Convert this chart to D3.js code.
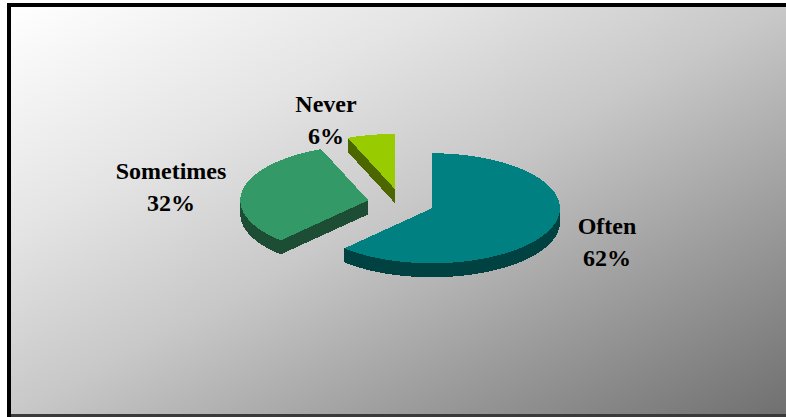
<!DOCTYPE html>
<html>
<head>
<meta charset="utf-8">
<script src="https://cdn.jsdelivr.net/npm/d3@7"></script>
<style>
  html, body { margin: 0; padding: 0; background: #ffffff; overflow: hidden; }
  svg { display: block; }
  .lbl { font-family: "Liberation Serif", "Times New Roman", serif; font-weight: bold; font-size: 24px; fill: #000; }
</style>
</head>
<body>
<svg id="chart" width="786" height="417"></svg>
<script>
// Survey answer shares
const categories = ["Often", "Sometimes", "Never"];
const values = [62, 32, 6];
const percentLabels = ["62%", "32%", "6%"];

// Face colours (top surface, side walls)
const topColors = ["#008080", "#339966", "#99cc00"];
const sideColors = ["#004242", "#1e4d36", "#4c6600"];

const W = 786, H = 417;
const svg = d3.select("#chart");

// Background panel with diagonal grey fade
const defs = svg.append("defs");
const grad = defs.append("linearGradient")
  .attr("id", "bg").attr("x1", 0).attr("y1", 0).attr("x2", 1).attr("y2", 1);
[[0, "#ffffff"], [0.28, "#e4e4e4"], [0.5, "#c8c8c8"], [0.73, "#9f9f9f"], [1, "#707070"]]
  .forEach(([o, c]) => grad.append("stop").attr("offset", o).attr("stop-color", c));

svg.append("rect").attr("x", 11).attr("y", 7).attr("width", W - 11).attr("height", H - 10).attr("fill", "url(#bg)");

// Frame: heavy left and top edges, thin dark bottom edge
svg.append("rect").attr("x", 7).attr("y", 3).attr("width", 4).attr("height", H - 3).attr("fill", "#000");
svg.append("rect").attr("x", 7).attr("y", 3).attr("width", W - 7).attr("height", 4).attr("fill", "#000");
svg.append("rect").attr("x", 11).attr("y", 414).attr("width", W - 11).attr("height", 3).attr("fill", "#3a3a3a");

// 3D pie geometry
const cx = 401, cy = 203;      // pie centre on screen
const rx = 128, ry = 55;       // ellipse radii of the tilted disc
const depth = 14;              // thickness of the disc
const explode = 0.26;          // slice pull-out, as a fraction of the radius

// Unit-circle -> ellipse projection scales
const sx = d3.scaleLinear().domain([-1, 1]).range([-rx, rx]);
const sy = d3.scaleLinear().domain([-1, 1]).range([ry, -ry]);

const pie = d3.pie().sort(null).startAngle(0).endAngle(2 * Math.PI);
const arcs = pie(values);
const line = d3.line();

function arcPts(ox, oy, a0, a1, dy) {
  const n = Math.max(2, Math.ceil((a1 - a0) / 0.02));
  return d3.range(n + 1).map(i => {
    const a = a0 + (a1 - a0) * i / n;
    return [ox + sx(Math.sin(a)), oy + sy(Math.cos(a)) + dy];
  });
}

const g = svg.append("g").attr("shape-rendering", "crispEdges");

// Back slices first so nearer faces overlap correctly
const order = [2, 1, 0];
order.forEach(i => {
  const d = arcs[i];
  const mid = (d.startAngle + d.endAngle) / 2;
  const ox = cx + explode * sx(Math.sin(mid));
  const oy = cy + explode * sy(Math.cos(mid));
  const a0 = d.startAngle, a1 = d.endAngle;
  const slice = g.append("g").attr("class", "slice");

  // Radial walls facing the viewer
  const walls = [];
  if (Math.sin(a0) < -1e-6) walls.push(a0);
  if (Math.sin(a1) > 1e-6) walls.push(a1);
  walls.forEach(a => {
    const p = [ox + sx(Math.sin(a)), oy + sy(Math.cos(a))];
    const pts = [[ox, oy], p, [p[0], p[1] + depth], [ox, oy + depth]];
    slice.append("path").attr("d", line(pts) + "Z").attr("fill", sideColors[i]);
  });

  // Curved outer wall on the front half of the disc
  const f0 = Math.max(a0, Math.PI / 2), f1 = Math.min(a1, 3 * Math.PI / 2);
  if (f1 > f0) {
    const topEdge = arcPts(ox, oy, f0, f1, 0);
    const botEdge = arcPts(ox, oy, f0, f1, depth).reverse();
    slice.append("path").attr("d", line(topEdge.concat(botEdge)) + "Z").attr("fill", sideColors[i]);
  }

  // Top surface
  const topPts = [[ox, oy]].concat(arcPts(ox, oy, a0, a1, 0));
  slice.append("path").attr("d", line(topPts) + "Z").attr("fill", topColors[i]);
});

// Category and percentage labels (offsets from the pie centre)
const labelOffsets = [[206, 31], [-230, -24], [-75, -91]];
const lineGap = 31.5;
categories.forEach((c, i) => {
  const [dx, dy] = labelOffsets[i];
  const t = svg.append("text").attr("class", "lbl").attr("text-anchor", "middle");
  t.append("tspan").attr("x", cx + dx).attr("y", cy + dy).text(c);
  t.append("tspan").attr("x", cx + dx).attr("y", cy + dy + lineGap).text(percentLabels[i]);
});
</script>
</body>
</html>
